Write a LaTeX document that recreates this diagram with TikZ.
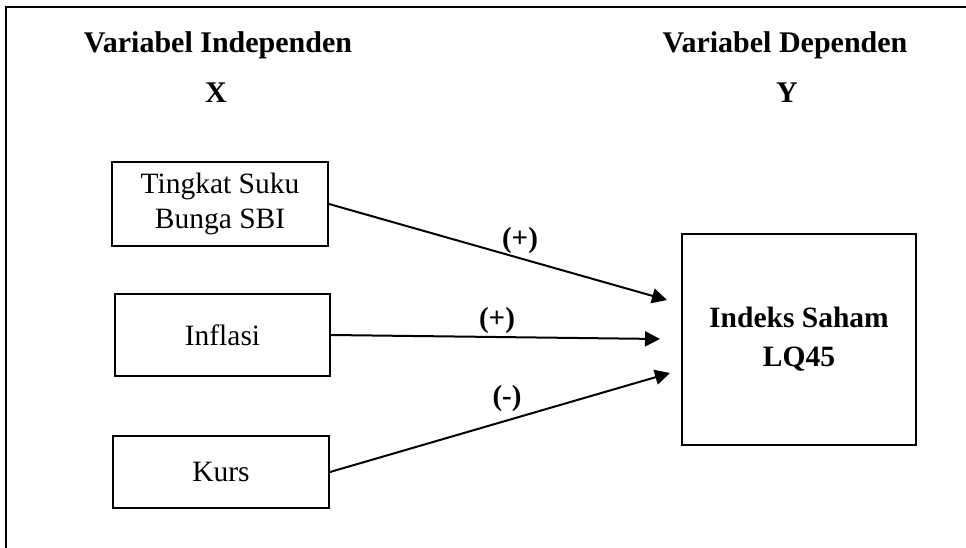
\documentclass[tikz,border=0pt]{standalone}
\usepackage{fontspec}
\setmainfont{Liberation Serif}
\usetikzlibrary{arrows.meta}

\tikzset{
  varbox/.style={draw, line width=2pt, inner sep=0pt, align=center,
    font=\fontsize{29.5}{35}\selectfont},
  head/.style={anchor=base, font=\fontsize{30}{36}\selectfont\bfseries},
  sign/.style={anchor=base, font=\fontsize{29}{34}\selectfont\bfseries},
  link/.style={line width=2pt, -{Triangle[length=15pt,width=15pt]}},
  frame/.style={line width=2.8pt}
}

\begin{document}
\begin{tikzpicture}[x=1pt, y=-1pt]
  \useasboundingbox (0,0) rectangle (966,548);

  % open frame: top and left sides only
  \coordinate (fb) at (6,548);
  \coordinate (fc) at (6,7);
  \coordinate (fr) at (966,7);
  \draw[frame] (fb) -- (fc) -- (fr);

  % column headings
  \node[head] (hx) at (218,53) {Variabel Independen};
  \node[head] (x)  at (216,103) {X};
  \node[head] (hy) at (785,53) {Variabel Dependen};
  \node[head] (y)  at (787,103) {Y};

  % independent variables
  \node[varbox, minimum width=216pt, minimum height=84pt] (sbi) at (220,204)
    {Tingkat Suku\\Bunga SBI};
  \node[varbox, minimum width=215pt, minimum height=82pt] (inf) at (222.5,335)
    {Inflasi};
  \node[varbox, minimum width=216pt, minimum height=72pt] (kurs) at (221,472)
    {Kurs};

  % dependent variable
  \node[varbox, font=\fontsize{29.5}{39}\selectfont\bfseries,
        minimum width=234pt, minimum height=211pt] (lq) at (799,339.5)
    {Indeks Saham\\LQ45};

  % arrow ends in front of the dependent box
  \coordinate (t1) at (667,300);
  \coordinate (t2) at (660,339);
  \coordinate (t3) at (670,373);

  \draw[link] (sbi.east) -- (t1);
  \draw[link] (inf.east) -- (t2);
  \draw[link] (kurs.east) -- (t3);

  % signs of the effects
  \node[sign] (s1) at (520,247) {(+)};
  \node[sign] (s2) at (497,327) {(+)};
  \node[sign] (s3) at (507,405) {(-)};
\end{tikzpicture}
\end{document}
